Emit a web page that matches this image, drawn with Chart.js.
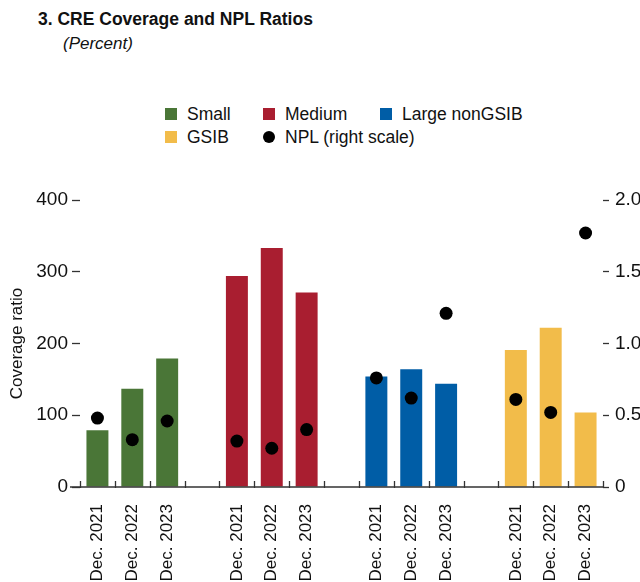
<!DOCTYPE html>
<html>
<head>
<meta charset="utf-8">
<script src="https://cdn.jsdelivr.net/npm/chart.js@4.4.1/dist/chart.umd.min.js"></script>
<style>
  body { margin: 0; background: #fff; overflow: hidden; }
  #wrap { position: relative; width: 640px; height: 582px; font-family: "Liberation Sans", Arial, sans-serif; color: #111; }
  #chart { position: absolute; left: 0; top: 0; }
  .title { position: absolute; left: 38px; top: 9px; font-size: 17.5px; font-weight: bold; }
  .sub { position: absolute; left: 63px; top: 34px; font-size: 17px; font-style: italic; }
  .leg { position: absolute; font-size: 17.5px; line-height: 22px; display: flex; align-items: center; white-space: nowrap; }
  .sw { width: 12px; height: 12px; margin-right: 10px; }
  .dot { border-radius: 50%; }
</style>
</head>
<body>
<div id="wrap">
  <div class="title">3. CRE Coverage and NPL Ratios</div>
  <div class="sub">(Percent)</div>
  <div id="legend"></div>
  <canvas id="chart" width="640" height="582"></canvas>
</div>
<script>
const groups = ['Small', 'Medium', 'Large nonGSIB', 'GSIB'];
const years = ['Dec. 2021', 'Dec. 2022', 'Dec. 2023'];
const small = [79, 137, 179];
const medium = [294, 333, 271];
const largeNonGsib = [154, 164, 144];
const gsib = [191, 222, 104];
const npl = [0.48, 0.33, 0.46, 0.32, 0.27, 0.40, 0.76, 0.62, 1.21, 0.61, 0.52, 1.77];
const colors = ['#4A7637', '#A91E30', '#005DA6', '#F2BC4A'];

// 3 years per group, one empty category between groups
const labels = [];
groups.forEach((g, i) => {
    labels.push(...years);
    if (i < groups.length - 1) labels.push('');
});

function place(values, groupIndex) {
    const arr = labels.map(() => null);
    values.forEach((v, j) => { arr[groupIndex * 4 + j] = v; });
    return arr;
}

const nplData = labels.map(() => null);
npl.forEach((v, k) => { nplData[Math.floor(k / 3) * 4 + (k % 3)] = v; });

const barSets = [small, medium, largeNonGsib, gsib].map((vals, i) => ({
    type: 'bar',
    label: groups[i],
    data: place(vals, i),
    backgroundColor: colors[i],
    grouped: false,
    barPercentage: 0.63,
    categoryPercentage: 1,
    yAxisID: 'y',
    order: 2
}));

const nplSet = {
    type: 'line',
    label: 'NPL (right scale)',
    data: nplData,
    showLine: false,
    pointRadius: 6.5,
    pointBackgroundColor: '#000',
    pointBorderWidth: 0,
    yAxisID: 'y1',
    order: 1
};

// html legend in three columns like the original
const legendPos = [[165, 103], [263, 103], [380, 103], [165, 126], [263, 126]];
const legendItems = barSets.map(d => ({ text: d.label, color: d.backgroundColor, dot: false }))
    .concat([{ text: nplSet.label, color: '#000', dot: true }]);
const legendEl = document.getElementById('legend');
legendItems.forEach((it, i) => {
    const div = document.createElement('div');
    div.className = 'leg';
    div.style.left = legendPos[i][0] + 'px';
    div.style.top = legendPos[i][1] + 'px';
    div.innerHTML = '<span class="sw' + (it.dot ? ' dot' : '') + '" style="background:' + it.color + '"></span>' + it.text;
    legendEl.appendChild(div);
});

const font = "'Liberation Sans', Arial, sans-serif";

const boundaryTicks = {
    id: 'boundaryTicks',
    afterDraw(chart) {
        const x = chart.scales.x, c = chart.ctx, b = chart.chartArea.bottom;
        c.save();
        c.strokeStyle = '#333';
        c.lineWidth = 1.3;
        c.beginPath();
        c.moveTo(70, b);
        c.lineTo(chart.chartArea.right, b);
        for (let i = 0; i <= labels.length; i++) {
            const px = Math.round(x.getPixelForValue(i - 0.5)) + 0.5;
            c.moveTo(px, b - 6);
            c.lineTo(px, b + 1);
        }
        c.stroke();
        c.restore();
    }
};

new Chart(document.getElementById('chart'), {
    data: { labels: labels, datasets: barSets.concat([nplSet]) },
    options: {
        responsive: false,
        animation: false,
        layout: { padding: { top: 200, left: 0, right: 0, bottom: 0 } },
        plugins: { legend: { display: false }, tooltip: { enabled: false } },
        scales: {
            x: {
                grid: { display: false },
                border: { display: false },
                ticks: {
                    minRotation: 90, maxRotation: 90, autoSkip: false, padding: 9,
                    color: '#111', font: { family: font, size: 17 }
                },
                afterFit(s) { s.height = 95; }
            },
            y: {
                position: 'left',
                min: 0, max: 400,
                grid: { drawOnChartArea: false, drawTicks: true, tickLength: 8, tickColor: '#333', tickWidth: 1.3 },
                border: { display: false },
                ticks: { stepSize: 100, padding: 4, color: '#111', font: { family: font, size: 19 } },
                title: { display: true, text: 'Coverage ratio', color: '#111', font: { family: font, size: 17 }, padding: { top: 7, bottom: 0 } },
                afterFit(s) { s.width = 80; }
            },
            y1: {
                position: 'right',
                min: 0, max: 2,
                grid: { drawOnChartArea: false, drawTicks: true, tickLength: 6, tickColor: '#333', tickWidth: 1.3 },
                border: { display: false },
                ticks: {
                    stepSize: 0.5, padding: 6, color: '#111', font: { family: font, size: 19 },
                    callback: v => v === 0 ? '0' : v.toFixed(1)
                },
                afterFit(s) { s.width = 37; }
            }
        }
    },
    plugins: [boundaryTicks]
});
</script>
</body>
</html>
